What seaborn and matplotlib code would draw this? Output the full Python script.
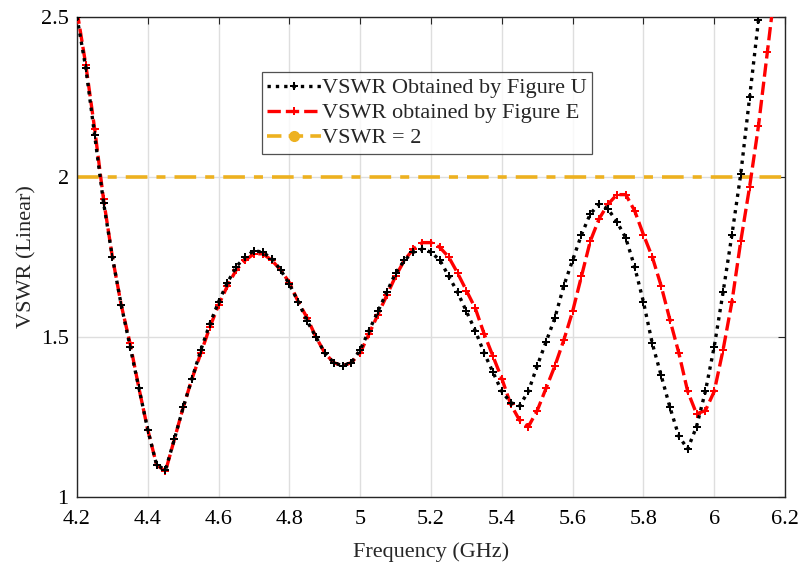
import numpy as np
import pandas as pd
import matplotlib
matplotlib.use("Agg")
import matplotlib.pyplot as plt
from matplotlib.lines import Line2D
import seaborn as sns

# frequency grid (GHz) and VSWR
freq = [4.200, 4.225, 4.250, 4.275, 4.300, 4.325, 4.350, 4.375, 4.400, 4.425,
        4.450, 4.475, 4.500, 4.525, 4.550, 4.575, 4.600, 4.625, 4.650, 4.675,
        4.700, 4.725, 4.750, 4.775, 4.800, 4.825, 4.850, 4.875, 4.900, 4.925,
        4.950, 4.975, 5.000, 5.025, 5.050, 5.075, 5.100, 5.125, 5.150, 5.175,
        5.200, 5.225, 5.250, 5.275, 5.300, 5.325, 5.350, 5.375, 5.400, 5.425,
        5.450, 5.475, 5.500, 5.525, 5.550, 5.575, 5.600, 5.625, 5.650, 5.675,
        5.700, 5.725, 5.750, 5.775, 5.800, 5.825, 5.850, 5.875, 5.900, 5.925,
        5.950, 5.975, 6.000, 6.025, 6.050, 6.075, 6.100, 6.125, 6.150, 6.175]

vswr_u = [2.50, 2.34, 2.13, 1.92, 1.75, 1.60, 1.47, 1.34, 1.21, 1.10,
          1.085, 1.18, 1.28, 1.37, 1.46, 1.54, 1.61, 1.67, 1.72, 1.75,
          1.77, 1.765, 1.745, 1.71, 1.665, 1.61, 1.55, 1.50, 1.45, 1.42,
          1.41, 1.42, 1.46, 1.52, 1.58, 1.64, 1.70, 1.74, 1.765, 1.775,
          1.765, 1.74, 1.69, 1.64, 1.58, 1.52, 1.45, 1.39, 1.33, 1.295,
          1.285, 1.33, 1.41, 1.485, 1.56, 1.66, 1.74, 1.82, 1.885, 1.915,
          1.90, 1.86, 1.81, 1.72, 1.61, 1.48, 1.38, 1.28, 1.19, 1.15,
          1.22, 1.33, 1.47, 1.64, 1.82, 2.01, 2.25, 2.49, 2.72, 2.95]

vswr_e = [2.52, 2.35, 2.15, 1.93, 1.75, 1.60, 1.48, 1.34, 1.21, 1.10,
          1.08, 1.18, 1.28, 1.37, 1.45, 1.53, 1.60, 1.66, 1.71, 1.74,
          1.76, 1.76, 1.74, 1.71, 1.67, 1.61, 1.56, 1.50, 1.45, 1.42,
          1.41, 1.42, 1.45, 1.51, 1.57, 1.63, 1.69, 1.74, 1.775, 1.795,
          1.795, 1.78, 1.75, 1.70, 1.645, 1.59, 1.51, 1.44, 1.37, 1.29,
          1.24, 1.22, 1.27, 1.34, 1.41, 1.49, 1.58, 1.69, 1.80, 1.87,
          1.915, 1.945, 1.945, 1.895, 1.82, 1.75, 1.66, 1.553, 1.45, 1.33,
          1.26, 1.27, 1.33, 1.46, 1.61, 1.80, 1.97, 2.16, 2.39, 2.62]

ref_freq = [4.2, 6.2]
ref_vswr = [2, 2]

labels = ["VSWR Obtained by Figure U", "VSWR obtained by Figure E", "VSWR = 2"]
xticks = [4.2, 4.4, 4.6, 4.8, 5.0, 5.2, 5.4, 5.6, 5.8, 6.0, 6.2]
xticklabels = ["4.2", "4.4", "4.6", "4.8", "5", "5.2", "5.4", "5.6", "5.8", "6", "6.2"]
yticks = [1, 1.5, 2, 2.5]
yticklabels = ["1", "1.5", "2", "2.5"]

sns.set_style("white")
plt.rcParams['font.family'] = ['Liberation Serif', 'DejaVu Serif']

fig = plt.figure(figsize=(8.12, 5.68), dpi=100)
ax = fig.add_axes([0.0948, 0.125, 0.872, 0.845])

orange = "#EDB120"
sns.lineplot(x=ref_freq, y=ref_vswr, ax=ax, color=orange, lw=2.6,
             linestyle=(0, (6, 2.5, 2.5, 2.5)), zorder=2)
sns.lineplot(x=freq, y=vswr_e, ax=ax, color="red", lw=2.4,
             linestyle=(0, (4, 1.5)), marker="P", markersize=6,
             markeredgewidth=0, zorder=3)
sns.lineplot(x=freq, y=vswr_u, ax=ax, color="black", lw=2.4,
             linestyle=(0, (1, 1.5)), marker="P", markersize=6,
             markeredgewidth=0, zorder=4)

ax.set_xlim(4.2, 6.2)
ax.set_ylim(1, 2.5)
ax.set_xticks(xticks)
ax.set_xticklabels(xticklabels)
ax.set_yticks(yticks)
ax.set_yticklabels(yticklabels)
ax.tick_params(direction="in", length=5, width=0.8, labelsize=16,
               top=True, right=True, colors="#262626", labelcolor="black")
ax.tick_params(axis="x", pad=9)
ax.tick_params(axis="y", pad=6)
ax.grid(True, color="#dedede", lw=1)
for s in ax.spines.values():
    s.set_color("#262626")
    s.set_linewidth(1)

ax.set_xlabel("Frequency (GHz)", fontsize=16, labelpad=10)
ax.set_ylabel("VSWR (Linear)", fontsize=16, labelpad=3)

handles = [
    Line2D([], [], color="black", lw=2.4, linestyle=(0, (1, 1.5)), marker="P",
           markersize=6, markeredgewidth=0),
    Line2D([], [], color="red", lw=2.4, linestyle=(0, (4, 1.5)), marker="P",
           markersize=6, markeredgewidth=0),
    Line2D([], [], color=orange, lw=2.6, linestyle=(0, (4, 2)), marker="o",
           markersize=7),
]
leg = ax.legend(handles, labels, loc="upper left", bbox_to_anchor=(0.261, 0.885),
                fontsize=16, frameon=True, fancybox=False, handlelength=2.4,
                handletextpad=0.05, borderpad=0.25, labelspacing=0.2,
                borderaxespad=0)
leg.get_frame().set_edgecolor("#262626")
leg.get_frame().set_linewidth(0.9)

fig.savefig("out.png", dpi=100)
